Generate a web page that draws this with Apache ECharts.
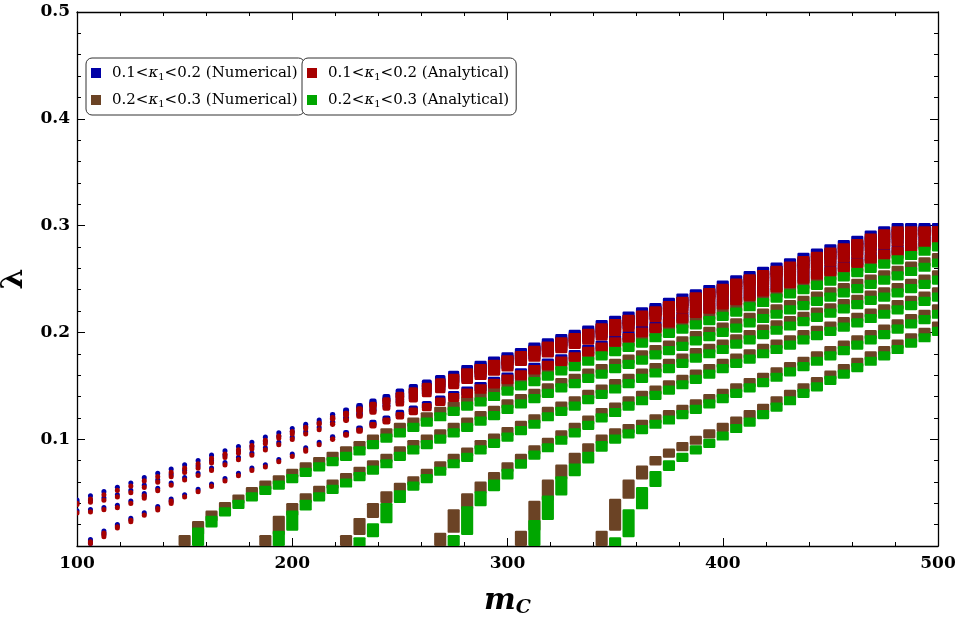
<!DOCTYPE html>
<html><head><meta charset="utf-8">
<script src="https://cdn.jsdelivr.net/npm/echarts/dist/echarts.min.js"></script>
<style>html,body{margin:0;padding:0;background:#fff}#chart{width:957px;height:617px}</style>
</head><body><div id="chart"></div>
<script>
// m_C sampling columns
const mC = [100,106.25,112.5,118.75,125,131.25,137.5,143.75,150,156.25,162.5,168.75,175,181.25,187.5,193.75,200,206.25,212.5,218.75,225,231.25,237.5,243.75,250,256.25,262.5,268.75,275,281.25,287.5,293.75,300,306.25,312.5,318.75,325,331.25,337.5,343.75,350,356.25,362.5,368.75,375,381.25,387.5,393.75,400,406.25,412.5,418.75,425,431.25,437.5,443.75,450,456.25,462.5,468.75,475,481.25,487.5,493.75,500];
const xTicks = [100,200,300,400,500];
const yTicks = [0.1,0.2,0.3,0.4,0.5];
const nameNumLow = '0.1<κ1<0.2 (Numerical)';
const nameNumHigh = '0.2<κ1<0.3 (Numerical)';
const nameAnaLow = '0.1<κ1<0.2 (Analytical)';
const nameAnaHigh = '0.2<κ1<0.3 (Analytical)';

// 0.1<k1<0.2 numerical (blue)
const blueA = [0.043,0.047,0.051,0.055,0.059,0.064,0.068,0.072,0.076,0.080,0.085,0.089,0.093,0.097,0.102,0.106,0.110,0.114,0.118,0.123,0.127,0.131,0.135,0.139,0.144,0.148,0.152,0.156,0.160,0.165,0.169,0.173,0.177,0.181,0.186,0.190,0.194,0.198,0.202,0.207,0.211,0.215,0.219,0.223,0.228,0.232,0.236,0.240,0.244,0.249,0.253,0.257,0.261,0.265,0.270,0.274,0.278,0.282,0.286,0.291,0.295,0.298,0.298,0.298,0.298];
const blueB = [0.041,0.043,0.045,0.048,0.052,0.057,0.062,0.067,0.071,0.075,0.080,0.085,0.089,0.093,0.098,0.103,0.107,0.112,0.116,0.121,0.125,0.129,0.133,0.137,0.141,0.145,0.150,0.154,0.158,0.163,0.167,0.171,0.175,0.179,0.184,0.188,0.192,0.196,0.200,0.204,0.208,0.212,0.217,0.221,0.225,0.229,0.233,0.237,0.241,0.246,0.250,0.254,0.258,0.262,0.266,0.270,0.274,0.278,0.282,0.286,0.290,0.293,0.295,0.296,0.297];
const blueC = [0.033,0.034,0.036,0.038,0.042,0.049,0.054,0.059,0.064,0.068,0.073,0.078,0.083,0.087,0.092,0.097,0.102,0.107,0.111,0.116,0.120,0.124,0.128,0.132,0.136,0.140,0.145,0.149,0.153,0.158,0.162,0.166,0.170,0.175,0.179,0.183,0.187,0.191,0.195,0.199,0.203,0.207,0.212,0.216,0.220,0.224,0.228,0.232,0.236,0.240,0.244,0.248,0.252,0.256,0.260,0.264,0.268,0.272,0.276,0.280,0.284,0.287,0.290,0.292,0.294];
const blueD = [0.006,0.014,0.020,0.026,0.031,0.037,0.044,0.048,0.053,0.058,0.063,0.068,0.073,0.076,0.081,0.086,0.092,0.097,0.102,0.106,0.110,0.115,0.119,0.124,0.128,0.132,0.137,0.141,0.145,0.149,0.154,0.158,0.162,0.167,0.171,0.175,0.179,0.184,0.188,0.193,0.197,0.202,0.206,0.211,0.215,0.220,0.224,0.228,0.232,0.236,0.240,0.244,0.248,0.252,0.256,0.259,0.263,0.267,0.271,0.275,0.278,0.282,0.285,0.288];

// 0.1<k1<0.2 analytical (red)
const redA = [0.040,0.044,0.048,0.052,0.056,0.061,0.065,0.069,0.073,0.077,0.082,0.086,0.090,0.094,0.099,0.103,0.107,0.111,0.115,0.120,0.124,0.128,0.132,0.136,0.141,0.145,0.149,0.153,0.157,0.162,0.166,0.170,0.174,0.178,0.183,0.187,0.191,0.195,0.199,0.204,0.208,0.212,0.216,0.220,0.225,0.229,0.233,0.237,0.241,0.246,0.250,0.254,0.258,0.262,0.267,0.271,0.275,0.279,0.283,0.288,0.292,0.295,0.295,0.295,0.295];
const redB = [0.039,0.041,0.043,0.046,0.050,0.055,0.060,0.065,0.069,0.073,0.078,0.083,0.087,0.091,0.096,0.101,0.105,0.110,0.114,0.119,0.123,0.127,0.131,0.135,0.139,0.143,0.148,0.152,0.156,0.161,0.165,0.169,0.173,0.177,0.182,0.186,0.190,0.194,0.198,0.202,0.206,0.210,0.215,0.219,0.223,0.227,0.231,0.235,0.239,0.244,0.248,0.252,0.256,0.260,0.264,0.268,0.272,0.276,0.280,0.284,0.288,0.291,0.293,0.294,0.295];
const redC = [0.031,0.032,0.034,0.036,0.040,0.047,0.052,0.057,0.062,0.066,0.071,0.076,0.081,0.085,0.090,0.095,0.100,0.105,0.109,0.114,0.118,0.122,0.126,0.130,0.134,0.138,0.143,0.147,0.151,0.156,0.160,0.164,0.168,0.173,0.177,0.181,0.185,0.189,0.193,0.197,0.201,0.205,0.210,0.214,0.218,0.222,0.226,0.230,0.234,0.238,0.242,0.246,0.250,0.254,0.258,0.262,0.266,0.270,0.274,0.278,0.282,0.285,0.288,0.290,0.292];
const redD = [0.004,0.012,0.018,0.024,0.029,0.035,0.042,0.046,0.051,0.056,0.061,0.066,0.071,0.074,0.079,0.084,0.090,0.095,0.100,0.104,0.108,0.113,0.117,0.122,0.126,0.130,0.135,0.139,0.143,0.147,0.152,0.156,0.160,0.165,0.169,0.173,0.177,0.182,0.186,0.191,0.195,0.200,0.204,0.209,0.213,0.218,0.222,0.226,0.230,0.234,0.238,0.242,0.246,0.250,0.254,0.257,0.261,0.265,0.269,0.273,0.276,0.280,0.283,0.286];

// 0.2<k1<0.3 numerical (brown)
const brown1 = [0.006,0.019,0.029,0.037,0.044,0.051,0.057,0.062,0.068,0.074,0.079,0.084,0.089,0.094,0.100,0.106,0.111,0.116,0.121,0.126,0.131,0.136,0.140,0.145,0.150,0.155,0.159,0.164,0.169,0.173,0.178,0.183,0.187,0.191,0.195,0.200,0.204,0.208,0.212,0.216,0.220,0.224,0.229,0.233,0.237,0.241,0.245,0.249,0.253,0.257,0.261,0.265,0.269,0.273,0.277,0.281,0.285];
const brown2 = [0.006,0.024,0.036,0.045,0.052,0.058,0.064,0.070,0.076,0.082,0.089,0.095,0.100,0.105,0.111,0.116,0.122,0.127,0.133,0.138,0.143,0.148,0.153,0.157,0.162,0.166,0.171,0.175,0.179,0.184,0.188,0.192,0.197,0.201,0.205,0.209,0.214,0.218,0.222,0.226,0.230,0.234,0.238,0.242,0.246,0.250,0.254,0.258,0.262,0.266,0.270];
const brown3 = [0.006,0.022,0.036,0.047,0.055,0.061,0.068,0.075,0.082,0.088,0.095,0.101,0.107,0.113,0.119,0.126,0.131,0.136,0.142,0.147,0.152,0.157,0.162,0.167,0.171,0.176,0.181,0.185,0.189,0.194,0.198,0.203,0.207,0.211,0.215,0.219,0.223,0.227,0.231,0.235,0.238,0.242,0.246,0.250,0.254];
const brown4 = [0.008,0.030,0.045,0.056,0.065,0.074,0.082,0.090,0.097,0.104,0.111,0.118,0.125,0.130,0.136,0.141,0.146,0.151,0.156,0.161,0.166,0.171,0.176,0.180,0.185,0.189,0.193,0.198,0.202,0.206,0.210,0.214,0.218,0.222,0.226,0.230,0.234,0.238];
const brown5 = [0.010,0.038,0.058,0.072,0.083,0.092,0.100,0.106,0.110,0.114,0.119,0.123,0.128,0.133,0.138,0.143,0.148,0.153,0.158,0.163,0.168,0.173,0.178,0.183,0.188,0.193,0.198,0.203,0.208,0.213,0.217,0.222];
const brown6 = [0.010,0.040,0.058,0.071,0.080,0.087,0.093,0.099,0.105,0.111,0.117,0.123,0.129,0.136,0.142,0.148,0.154,0.160,0.166,0.172,0.178,0.183,0.189,0.195,0.200,0.206];

// 0.2<k1<0.3 analytical (green)
const green1 = [0.013,0.024,0.032,0.039,0.046,0.052,0.057,0.063,0.069,0.074,0.079,0.084,0.089,0.095,0.101,0.106,0.111,0.116,0.121,0.126,0.131,0.135,0.140,0.145,0.150,0.154,0.159,0.164,0.168,0.173,0.178,0.182,0.186,0.190,0.195,0.199,0.203,0.207,0.211,0.215,0.219,0.224,0.228,0.232,0.236,0.240,0.244,0.248,0.252,0.256,0.260,0.264,0.268,0.272,0.276,0.280];
const green2 = [0.010,0.029,0.039,0.046,0.053,0.059,0.065,0.071,0.077,0.084,0.090,0.095,0.100,0.106,0.111,0.117,0.122,0.128,0.133,0.138,0.143,0.148,0.152,0.157,0.161,0.166,0.170,0.174,0.179,0.183,0.187,0.192,0.196,0.200,0.204,0.209,0.213,0.217,0.221,0.225,0.229,0.233,0.237,0.241,0.245,0.249,0.253,0.257,0.261,0.265];
const green3 = [0.004,0.017,0.036,0.048,0.056,0.063,0.070,0.077,0.083,0.090,0.096,0.102,0.108,0.114,0.121,0.126,0.131,0.137,0.142,0.147,0.152,0.157,0.162,0.166,0.171,0.176,0.180,0.184,0.189,0.193,0.198,0.202,0.206,0.210,0.214,0.218,0.222,0.226,0.230,0.233,0.237,0.241,0.245,0.249];
const green4 = [0.006,0.033,0.047,0.058,0.068,0.077,0.085,0.092,0.099,0.106,0.113,0.120,0.125,0.131,0.136,0.141,0.146,0.151,0.156,0.161,0.166,0.171,0.175,0.180,0.184,0.188,0.193,0.197,0.201,0.205,0.209,0.213,0.217,0.221,0.225,0.229,0.233];
const green5 = [0.020,0.043,0.061,0.073,0.084,0.094,0.100,0.105,0.109,0.114,0.118,0.123,0.128,0.133,0.138,0.143,0.148,0.153,0.158,0.163,0.168,0.173,0.178,0.183,0.188,0.193,0.198,0.203,0.208,0.212,0.217];
const green6 = [0.004,0.030,0.051,0.066,0.076,0.083,0.090,0.096,0.103,0.110,0.116,0.123,0.130,0.136,0.143,0.149,0.155,0.161,0.167,0.173,0.178,0.184,0.190,0.195,0.201];

// first m_C column of each curve
const firstColumn = {
  blueA:100, blueB:100, blueC:100, blueD:106.25,
  redA:100, redB:100, redC:100, redD:106.25,
  brown1:150, brown2:187.5, brown3:225, brown4:268.75, brown5:306.25, brown6:343.75,
  green1:156.25, green2:193.75, green3:231.25, green4:275, green5:312.5, green6:350
};

const COLORS = { blue:'#0000a6', red:'#a60000', brown:'#6b4325', green:'#00a600' };

function buildData(values, startM) {
  const i0 = mC.indexOf(startM);
  return values.map((v, i) => [mC[i0 + i], v, i > 0 ? values[i - 1] : -1]);
}

function makeRender(color, kind, fromAxis) {
  return function (params, api) {
    const m = api.value(0), v = api.value(1), pv = api.value(2);
    const p = api.coord([m, v]);
    const colW = api.size([6.25, 0])[0];
    let w, hh, r;
    if (kind === 'band') { w = colW - 1.3; hh = 4.6; r = 1.2; }
    else {
      const t = Math.max(0, Math.min(1, (m - 215) / 70));
      w = 5 + t * (colW - 1.3 - 5);
      hh = 2.6 + t * 2.2;
      r = (1 - t) * 2.5 + t * 1.2;
    }
    const top = p[1] - hh;
    let bottom = p[1] + hh;
    if (!(pv >= 0)) {
      if (fromAxis) bottom = Math.max(bottom, api.coord([m, 0])[1]);
    } else {
      bottom = Math.max(bottom, api.coord([m, pv])[1] - hh);
    }
    return { type: 'rect', shape: { x: p[0] - w / 2, y: top, width: w, height: bottom - top, r: r }, style: { fill: color } };
  };
}

function curve(name, key, values, color, kind, fromAxis) {
  return {
    type: 'custom', name: name, clip: true,
    itemStyle: { color: color },
    encode: { x: 0, y: 1 },
    renderItem: makeRender(color, kind, fromAxis),
    data: buildData(values, firstColumn[key])
  };
}

const series = [
  curve(nameNumLow, 'blueA', blueA, COLORS.blue, 'dots', false),
  curve(nameNumLow, 'blueB', blueB, COLORS.blue, 'dots', false),
  curve(nameNumLow, 'blueC', blueC, COLORS.blue, 'dots', false),
  curve(nameNumLow, 'blueD', blueD, COLORS.blue, 'dots', true),
  curve(nameNumHigh, 'brown1', brown1, COLORS.brown, 'band', true),
  curve(nameNumHigh, 'brown2', brown2, COLORS.brown, 'band', true),
  curve(nameNumHigh, 'brown3', brown3, COLORS.brown, 'band', true),
  curve(nameNumHigh, 'brown4', brown4, COLORS.brown, 'band', true),
  curve(nameNumHigh, 'brown5', brown5, COLORS.brown, 'band', true),
  curve(nameNumHigh, 'brown6', brown6, COLORS.brown, 'band', true),
  curve(nameAnaLow, 'redA', redA, COLORS.red, 'dots', false),
  curve(nameAnaLow, 'redB', redB, COLORS.red, 'dots', false),
  curve(nameAnaLow, 'redC', redC, COLORS.red, 'dots', false),
  curve(nameAnaLow, 'redD', redD, COLORS.red, 'dots', true),
  curve(nameAnaHigh, 'green1', green1, COLORS.green, 'band', true),
  curve(nameAnaHigh, 'green2', green2, COLORS.green, 'band', true),
  curve(nameAnaHigh, 'green3', green3, COLORS.green, 'band', true),
  curve(nameAnaHigh, 'green4', green4, COLORS.green, 'band', true),
  curve(nameAnaHigh, 'green5', green5, COLORS.green, 'band', true),
  curve(nameAnaHigh, 'green6', green6, COLORS.green, 'band', true)
];

const SERIF = "'DejaVu Serif', serif";
const legendBase = {
  orient: 'vertical', top: 58, icon: 'rect', itemWidth: 10, itemHeight: 10, itemGap: 9,
  padding: [6, 7, 6, 5], borderColor: '#333', borderWidth: 1, borderRadius: 6, backgroundColor: '#fff',
  selectedMode: false,
  formatter: n => n.replace('κ1', '{k|κ}{s|1}'),
  textStyle: {
    fontFamily: SERIF, fontSize: 15, color: '#000', lineHeight: 18, padding: [0, 0, 0, 6],
    rich: {
      k: { fontFamily: SERIF, fontSize: 15, fontStyle: 'italic', color: '#000', lineHeight: 18 },
      s: { fontFamily: SERIF, fontSize: 10, color: '#000', verticalAlign: 'bottom', lineHeight: 14 }
    }
  }
};

const axisCommon = {
  axisLine: { show: true, onZero: false, lineStyle: { color: '#000', width: 1.3 } },
  axisTick: { show: true, inside: true, length: 8, lineStyle: { color: '#000', width: 1 } },
  minorTick: { show: true, splitNumber: 5, length: 4, lineStyle: { color: '#000', width: 1 } },
  splitLine: { show: false }, minorSplitLine: { show: false }
};
const labelStyle = { fontFamily: SERIF, fontWeight: 'bold', fontSize: 17, color: '#000' };

const option = {
  animation: false,
  backgroundColor: '#fff',
  grid: { left: 77, right: 19, top: 12, bottom: 71, containLabel: false, outerBoundsMode: 'none' },
  legend: [
    Object.assign({}, legendBase, { left: 86, data: [nameNumLow, nameNumHigh] }),
    Object.assign({}, legendBase, { left: 302, data: [nameAnaLow, nameAnaHigh] })
  ],
  xAxis: [
    Object.assign({ type: 'value', min: xTicks[0], max: xTicks[xTicks.length - 1], interval: 100, position: 'bottom',
      axisLabel: Object.assign({ margin: 9, formatter: v => xTicks.includes(v) ? String(v) : '' }, labelStyle),
      name: '{m|m}{c|C}', nameLocation: 'middle', nameGap: 38,
      nameTextStyle: { rich: {
        m: { fontFamily: SERIF, fontSize: 30, fontWeight: 'bold', fontStyle: 'italic', color: '#000', lineHeight: 34 },
        c: { fontFamily: SERIF, fontSize: 19, fontWeight: 'bold', fontStyle: 'italic', color: '#000', verticalAlign: 'bottom', lineHeight: 26 }
      } } }, axisCommon),
    Object.assign({ type: 'value', min: 100, max: 500, interval: 100, position: 'top', axisLabel: { show: false } }, axisCommon)
  ],
  yAxis: [
    Object.assign({ type: 'value', min: 0, max: 0.5, interval: 0.1, position: 'left',
      axisLabel: Object.assign({ margin: 7, formatter: v => {
        const t = yTicks.find(y => Math.abs(y - v) < 1e-9); return t === undefined ? '' : t.toFixed(1); } }, labelStyle),
      name: 'λ', nameLocation: 'middle', nameGap: 37, nameRotate: 90,
      nameTextStyle: { fontFamily: SERIF, fontSize: 30, fontWeight: 'bold', color: '#000' } }, axisCommon),
    Object.assign({ type: 'value', min: 0, max: 0.5, interval: 0.1, position: 'right', axisLabel: { show: false } }, axisCommon)
  ],
  series: series
};

const chart = echarts.init(document.getElementById('chart'), null, { renderer: 'canvas' });
chart.setOption(option);
</script>
</body></html>
